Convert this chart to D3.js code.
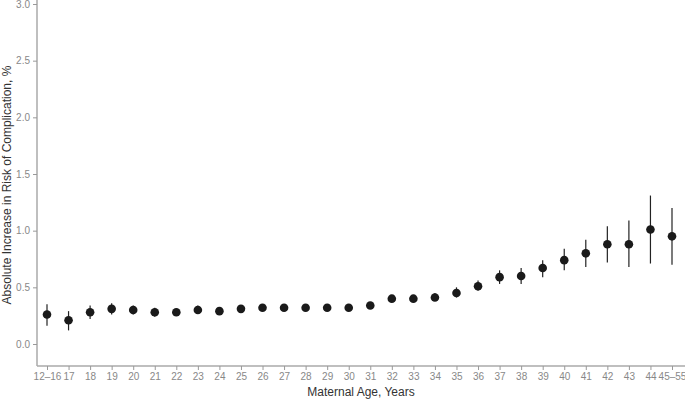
<!DOCTYPE html><html><head><meta charset="utf-8"><script src="https://cdn.jsdelivr.net/npm/d3@7"></script>
<style>body{margin:0;background:#fff}svg{font-family:"Liberation Sans",Arial,sans-serif}</style></head><body><svg width="685" height="400"></svg>
<script>
const ages=["12–16","17","18","19","20","21","22","23","24","25","26","27","28","29","30","31","32","33","34","35","36","37","38","39","40","41","42","43","44","45–55"];
const est=[0.26,0.21,0.28,0.31,0.30,0.28,0.28,0.30,0.29,0.31,0.32,0.32,0.32,0.32,0.32,0.34,0.40,0.40,0.41,0.45,0.51,0.59,0.60,0.67,0.74,0.80,0.88,0.88,1.01,0.95];
const lo=[0.16,0.12,0.22,0.26,0.26,0.24,0.25,0.27,0.26,0.28,0.30,0.30,0.30,0.30,0.30,0.32,0.37,0.37,0.38,0.41,0.47,0.53,0.53,0.59,0.65,0.68,0.72,0.68,0.71,0.70];
const hi=[0.35,0.29,0.34,0.36,0.34,0.32,0.31,0.34,0.31,0.34,0.35,0.35,0.35,0.35,0.35,0.37,0.43,0.43,0.45,0.50,0.56,0.65,0.67,0.74,0.84,0.92,1.04,1.09,1.31,1.20];
const yTicks=[0,0.5,1,1.5,2,2.5,3];
const svg=d3.select("svg");
const x=d3.scalePoint().domain(ages).range([47,672]);
const y=d3.scaleLinear().domain([0,3]).range([344,4]);
const g=svg.append("g");
const ya=g.append("g").attr("transform","translate(37,0)").call(d3.axisLeft(y).tickValues(yTicks).tickFormat(d3.format(".1f")).tickSize(4).tickSizeOuter(0));
ya.select(".domain").attr("d","M0,0V366").attr("stroke","#aaa").attr("stroke-width",1.5);
const xa=g.append("g").attr("transform","translate(0,366)").call(d3.axisBottom(x).tickSize(4).tickSizeOuter(0));
xa.select(".domain").attr("d","M37,0H685").attr("stroke","#aaa").attr("stroke-width",1.5);
svg.selectAll(".tick line").attr("stroke","#999");
svg.selectAll(".tick text").attr("fill","#888").attr("font-size",10);
svg.append("g").selectAll("line").data(ages).join("line").attr("x1",d=>x(d)).attr("x2",d=>x(d))
 .attr("y1",(d,i)=>y(lo[i])).attr("y2",(d,i)=>y(hi[i])).attr("stroke","#222").attr("stroke-width",1.2);
svg.append("g").selectAll("circle").data(ages).join("circle").attr("cx",d=>x(d)).attr("cy",(d,i)=>y(est[i])).attr("r",4.3).attr("fill","#1a1a1a");
svg.append("text").attr("x",361).attr("y",396).attr("text-anchor","middle").attr("font-size",12).attr("fill","#333").text("Maternal Age, Years");
svg.append("text").attr("transform","translate(11,185) rotate(-90)").attr("text-anchor","middle").attr("font-size",12).attr("fill","#333").text("Absolute Increase in Risk of Complication, %");
</script></body></html>
